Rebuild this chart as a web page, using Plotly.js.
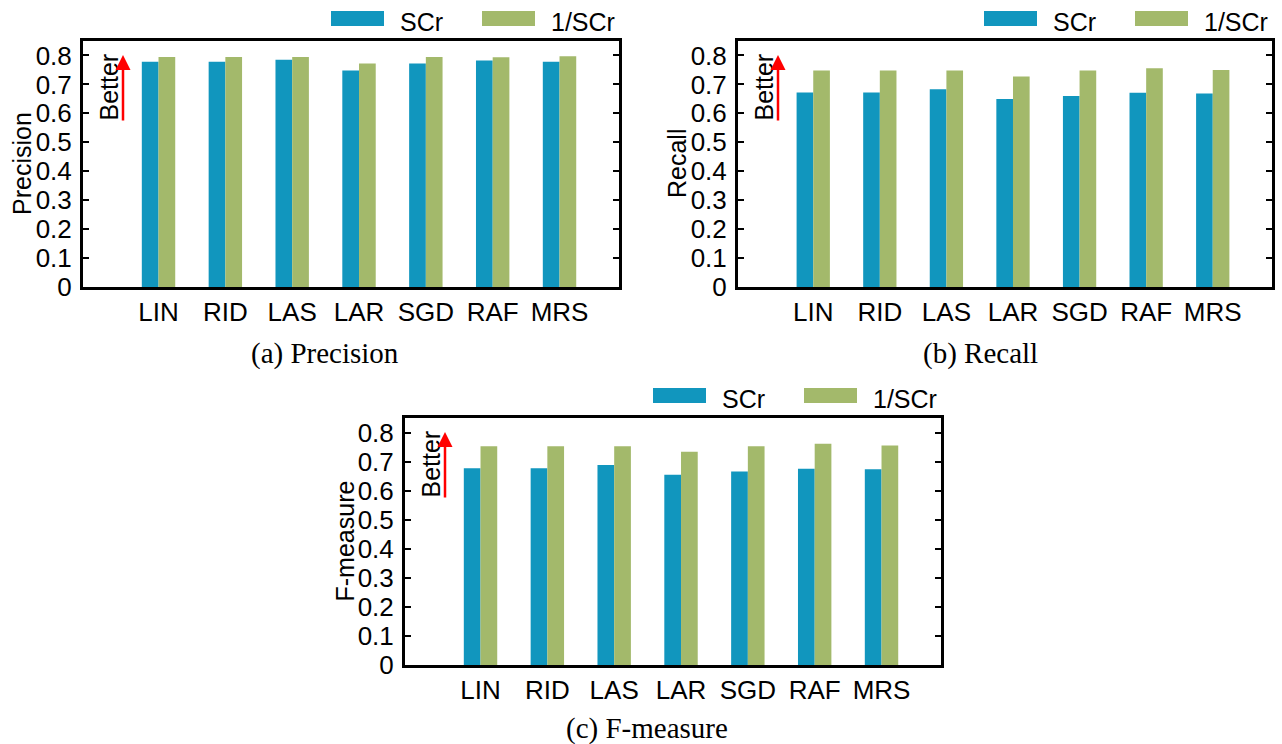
<!DOCTYPE html>
<html>
<head>
<meta charset="utf-8">
<script src="https://cdn.plot.ly/plotly-3.0.1.min.js"></script>
<style>html,body{margin:0;padding:0;background:#fff;}#chart{width:1282px;height:744px;}</style>
</head>
<body>
<div id="chart"></div>
<script>
const categories = ['LIN', 'RID', 'LAS', 'LAR', 'SGD', 'RAF', 'MRS'];
const seriesNames = ['SCr', '1/SCr'];
const precisionSCr = [0.778, 0.778, 0.785, 0.748, 0.772, 0.783, 0.778];
const precisionInv = [0.795, 0.795, 0.795, 0.772, 0.795, 0.794, 0.797];
const recallSCr = [0.672, 0.672, 0.683, 0.650, 0.660, 0.671, 0.669];
const recallInv = [0.748, 0.748, 0.748, 0.727, 0.748, 0.756, 0.750];
const fmeasureSCr = [0.677, 0.677, 0.688, 0.655, 0.666, 0.675, 0.674];
const fmeasureInv = [0.753, 0.753, 0.753, 0.734, 0.753, 0.761, 0.755];
const yTickVals = [0, 0.1, 0.2, 0.3, 0.4, 0.5, 0.6, 0.7, 0.8];
const yTickText = ['0', '0.1', '0.2', '0.3', '0.4', '0.5', '0.6', '0.7', '0.8'];
const panelTitles = ['Precision', 'Recall', 'F-measure'];
const captions = ['(a) Precision', '(b) Recall', '(c) F-measure'];

const colors = ['#1196be', '#a3b96b'];
const W = 1282, H = 744;
const FONT = 'Liberation Sans, Arial, sans-serif';

// panel boxes in pixels: [left, right, top, bottom]
const boxes = [
  [83, 619, 41, 287],
  [738, 1272, 41, 287],
  [405, 941, 418, 665]
];
const captionPos = [[325, 353], [980, 353], [647, 728]];

const panelData = [
  [precisionSCr, precisionInv],
  [recallSCr, recallInv],
  [fmeasureSCr, fmeasureInv]
];

const data = [];
const layout = {
  width: W, height: H,
  margin: {l: 0, r: 0, t: 0, b: 0},
  paper_bgcolor: '#fff', plot_bgcolor: '#fff',
  barmode: 'group', bargap: 0.5, bargroupgap: 0,
  showlegend: false,
  font: {family: FONT, size: 25, color: '#000'},
  annotations: [], shapes: []
};

panelData.forEach((pair, i) => {
  const sfx = i === 0 ? '' : String(i + 1);
  const xa = 'x' + sfx, ya = 'y' + sfx;
  pair.forEach((vals, j) => {
    data.push({
      type: 'bar', x: categories, y: vals, name: seriesNames[j],
      xaxis: xa, yaxis: ya,
      marker: {color: colors[j], line: {width: 0}},
      hoverinfo: 'x+y+name'
    });
  });
  const [l, r, t, b] = boxes[i];
  layout['xaxis' + sfx] = {
    domain: [l / W, r / W], anchor: ya, type: 'category',
    categoryorder: 'array', categoryarray: categories,
    range: [-1.13, 6.89], showline: true, linewidth: 3, linecolor: '#000',
    mirror: true, ticks: '', showgrid: false, zeroline: false,
    tickfont: {family: FONT, size: 26, color: '#000'}, fixedrange: true
  };
  layout['yaxis' + sfx] = {
    domain: [1 - b / H, 1 - t / H], anchor: xa,
    range: [0, 0.85], tickvals: yTickVals, ticktext: yTickText,
    showline: true, linewidth: 3, linecolor: '#000', mirror: 'ticks',
    ticks: 'inside', ticklen: 6, tickwidth: 2, tickcolor: '#000',
    showgrid: false, zeroline: false, ticklabelstandoff: 3,
    tickfont: {family: FONT, size: 26, color: '#000'}, fixedrange: true
  };
  const xd = xa + ' domain', yd = ya + ' domain';
  const bw = r - l, bh = b - t;
  // axis title
  layout.annotations.push({
    xref: xd, yref: yd, x: 0, y: 0.5, xshift: -61, text: panelTitles[i],
    textangle: -90, showarrow: false, font: {family: FONT, size: 25, color: '#000'},
    xanchor: 'center', yanchor: 'middle'
  });
  // Better text
  layout.annotations.push({
    xref: xd, yref: yd, x: 25.5 / bw, y: 1 - 46 / bh, text: 'Better',
    textangle: -90, showarrow: false, font: {family: FONT, size: 25, color: '#000'},
    xanchor: 'center', yanchor: 'middle'
  });
  // red arrow
  layout.annotations.push({
    xref: xd, yref: yd, x: 40 / bw, y: 1 - 14 / bh, text: '',
    showarrow: true, ax: 0, ay: 67, arrowcolor: '#ff0000', arrowwidth: 2.5,
    arrowhead: 2, arrowsize: 1.2
  });
  // legend (drawn)
  const legendItems = [[288, 235, 221], [137, 84, 70]];
  legendItems.forEach((it, j) => {
    layout.shapes.push({
      type: 'rect', xref: xd, yref: yd,
      x0: 1 - it[0] / bw, x1: 1 - it[1] / bw,
      y0: 1 + 15 / bh, y1: 1 + 30 / bh,
      fillcolor: colors[j], line: {width: 0}
    });
    layout.annotations.push({
      xref: xd, yref: yd, x: 1 - it[2] / bw, y: 1 + 19 / bh,
      text: seriesNames[j], showarrow: false, xanchor: 'left', yanchor: 'middle',
      font: {family: FONT, size: 25, color: '#000'}
    });
  });
  // caption
  layout.annotations.push({
    xref: 'paper', yref: 'paper', x: captionPos[i][0] / W, y: 1 - captionPos[i][1] / H,
    text: captions[i], showarrow: false, xanchor: 'center', yanchor: 'middle',
    font: {family: 'Liberation Serif, Times New Roman, serif', size: 29, color: '#000'}
  });
});

Plotly.newPlot('chart', data, layout, {displayModeBar: false, staticPlot: true});
</script>
</body>
</html>
